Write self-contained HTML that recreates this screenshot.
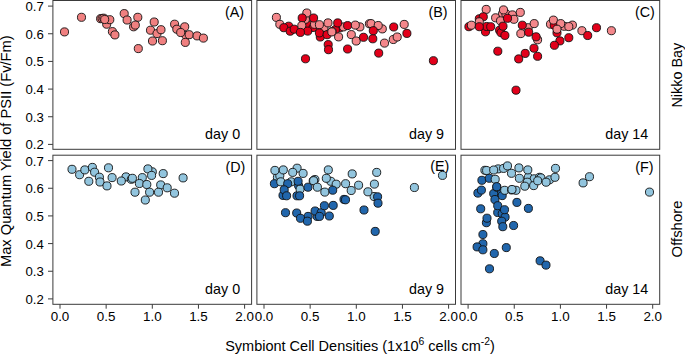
<!DOCTYPE html>
<html><head><meta charset="utf-8"><style>
html,body{margin:0;padding:0;background:#fff;width:685px;height:354px;overflow:hidden}
svg{display:block}
svg text{font-family:"Liberation Sans",sans-serif}
</style></head><body>
<svg width="685" height="354" viewBox="0 0 685 354">
<rect width="685" height="354" fill="#fff"/>
<text x="244.10" y="17.10" text-anchor="end" font-size="14.3" fill="#000" font-family="Liberation Sans, sans-serif">(A)</text>
<text x="240.10" y="138.60" text-anchor="end" font-size="14.3" fill="#000" font-family="Liberation Sans, sans-serif">day 0</text>
<text x="447.60" y="17.10" text-anchor="end" font-size="14.3" fill="#000" font-family="Liberation Sans, sans-serif">(B)</text>
<text x="444.00" y="138.60" text-anchor="end" font-size="14.3" fill="#000" font-family="Liberation Sans, sans-serif">day 9</text>
<text x="654.74" y="17.10" text-anchor="end" font-size="14.3" fill="#000" font-family="Liberation Sans, sans-serif">(C)</text>
<text x="648.20" y="138.60" text-anchor="end" font-size="14.3" fill="#000" font-family="Liberation Sans, sans-serif">day 14</text>
<text x="245.37" y="171.80" text-anchor="end" font-size="14.3" fill="#000" font-family="Liberation Sans, sans-serif">(D)</text>
<text x="240.10" y="293.60" text-anchor="end" font-size="14.3" fill="#000" font-family="Liberation Sans, sans-serif">day 0</text>
<text x="449.27" y="170.80" text-anchor="end" font-size="14.3" fill="#000" font-family="Liberation Sans, sans-serif">(E)</text>
<text x="444.00" y="293.60" text-anchor="end" font-size="14.3" fill="#000" font-family="Liberation Sans, sans-serif">day 9</text>
<text x="653.47" y="171.80" text-anchor="end" font-size="14.3" fill="#000" font-family="Liberation Sans, sans-serif">(F)</text>
<text x="648.20" y="293.60" text-anchor="end" font-size="14.3" fill="#000" font-family="Liberation Sans, sans-serif">day 14</text>
<rect x="52.9" y="0.5" width="198.70" height="148.80" fill="none" stroke="#3a3a3a" stroke-width="1"/>
<circle cx="64.5" cy="31.9" r="4.05" fill="#F08080" stroke="#111" stroke-width="0.9"/>
<circle cx="81.5" cy="17.3" r="4.05" fill="#F08080" stroke="#111" stroke-width="0.9"/>
<circle cx="106.7" cy="24.2" r="4.05" fill="#F08080" stroke="#111" stroke-width="0.9"/>
<circle cx="109.8" cy="19.7" r="4.05" fill="#F08080" stroke="#111" stroke-width="0.9"/>
<circle cx="100.6" cy="18.7" r="4.05" fill="#F08080" stroke="#111" stroke-width="0.9"/>
<circle cx="102.1" cy="18.4" r="4.05" fill="#F08080" stroke="#111" stroke-width="0.9"/>
<circle cx="103.8" cy="18.2" r="4.05" fill="#F08080" stroke="#111" stroke-width="0.9"/>
<circle cx="104.7" cy="19.5" r="4.05" fill="#F08080" stroke="#111" stroke-width="0.9"/>
<circle cx="112.4" cy="31.6" r="4.05" fill="#F08080" stroke="#111" stroke-width="0.9"/>
<circle cx="114.9" cy="34.9" r="4.05" fill="#F08080" stroke="#111" stroke-width="0.9"/>
<circle cx="124.2" cy="13.6" r="4.05" fill="#F08080" stroke="#111" stroke-width="0.9"/>
<circle cx="127.1" cy="20.0" r="4.05" fill="#F08080" stroke="#111" stroke-width="0.9"/>
<circle cx="137.8" cy="17.3" r="4.05" fill="#F08080" stroke="#111" stroke-width="0.9"/>
<circle cx="133.6" cy="26.8" r="4.05" fill="#F08080" stroke="#111" stroke-width="0.9"/>
<circle cx="135.3" cy="25.1" r="4.05" fill="#F08080" stroke="#111" stroke-width="0.9"/>
<circle cx="138.3" cy="48.6" r="4.05" fill="#F08080" stroke="#111" stroke-width="0.9"/>
<circle cx="154.2" cy="22.0" r="4.05" fill="#F08080" stroke="#111" stroke-width="0.9"/>
<circle cx="150.5" cy="30.2" r="4.05" fill="#F08080" stroke="#111" stroke-width="0.9"/>
<circle cx="157.0" cy="33.6" r="4.05" fill="#F08080" stroke="#111" stroke-width="0.9"/>
<circle cx="161.0" cy="29.7" r="4.05" fill="#F08080" stroke="#111" stroke-width="0.9"/>
<circle cx="152.5" cy="41.0" r="4.05" fill="#F08080" stroke="#111" stroke-width="0.9"/>
<circle cx="162.4" cy="40.7" r="4.05" fill="#F08080" stroke="#111" stroke-width="0.9"/>
<circle cx="174.6" cy="24.2" r="4.05" fill="#F08080" stroke="#111" stroke-width="0.9"/>
<circle cx="176.8" cy="29.2" r="4.05" fill="#F08080" stroke="#111" stroke-width="0.9"/>
<circle cx="184.7" cy="26.8" r="4.05" fill="#F08080" stroke="#111" stroke-width="0.9"/>
<circle cx="186.1" cy="35.6" r="4.05" fill="#F08080" stroke="#111" stroke-width="0.9"/>
<circle cx="180.7" cy="32.5" r="4.05" fill="#F08080" stroke="#111" stroke-width="0.9"/>
<circle cx="189.2" cy="34.7" r="4.05" fill="#F08080" stroke="#111" stroke-width="0.9"/>
<circle cx="185.3" cy="42.4" r="4.05" fill="#F08080" stroke="#111" stroke-width="0.9"/>
<circle cx="197.1" cy="35.9" r="4.05" fill="#F08080" stroke="#111" stroke-width="0.9"/>
<circle cx="203.4" cy="38.1" r="4.05" fill="#F08080" stroke="#111" stroke-width="0.9"/>
<rect x="256.9" y="0.5" width="198.60" height="148.80" fill="none" stroke="#3a3a3a" stroke-width="1"/>
<circle cx="288.7" cy="26.2" r="4.05" fill="#E2001A" stroke="#111" stroke-width="0.9"/>
<circle cx="309" cy="25.2" r="4.05" fill="#E2001A" stroke="#111" stroke-width="0.9"/>
<circle cx="305.4" cy="19.3" r="4.05" fill="#F4878B" stroke="#111" stroke-width="0.9"/>
<circle cx="313.1" cy="27.5" r="4.05" fill="#E2001A" stroke="#111" stroke-width="0.9"/>
<circle cx="314.5" cy="24.3" r="4.05" fill="#F4878B" stroke="#111" stroke-width="0.9"/>
<circle cx="320.3" cy="37" r="4.05" fill="#E2001A" stroke="#111" stroke-width="0.9"/>
<circle cx="324" cy="27.5" r="4.05" fill="#F4878B" stroke="#111" stroke-width="0.9"/>
<circle cx="340" cy="27.8" r="4.05" fill="#E2001A" stroke="#111" stroke-width="0.9"/>
<circle cx="335.4" cy="29.6" r="4.05" fill="#E2001A" stroke="#111" stroke-width="0.9"/>
<circle cx="343.6" cy="26.9" r="4.05" fill="#F4878B" stroke="#111" stroke-width="0.9"/>
<circle cx="359.9" cy="26.9" r="4.05" fill="#F4878B" stroke="#111" stroke-width="0.9"/>
<circle cx="393.3" cy="39.5" r="4.05" fill="#F4878B" stroke="#111" stroke-width="0.9"/>
<circle cx="276.4" cy="17.4" r="4.05" fill="#F4878B" stroke="#111" stroke-width="0.9"/>
<circle cx="279.8" cy="24.3" r="4.05" fill="#F4878B" stroke="#111" stroke-width="0.9"/>
<circle cx="283.8" cy="27.7" r="4.05" fill="#E2001A" stroke="#111" stroke-width="0.9"/>
<circle cx="290.2" cy="31.2" r="4.05" fill="#E2001A" stroke="#111" stroke-width="0.9"/>
<circle cx="294.2" cy="29.2" r="4.05" fill="#E2001A" stroke="#111" stroke-width="0.9"/>
<circle cx="306.8" cy="13" r="4.05" fill="#F4878B" stroke="#111" stroke-width="0.9"/>
<circle cx="302.2" cy="18" r="4.05" fill="#E2001A" stroke="#111" stroke-width="0.9"/>
<circle cx="313.6" cy="18" r="4.05" fill="#E2001A" stroke="#111" stroke-width="0.9"/>
<circle cx="301.8" cy="25.6" r="4.05" fill="#F4878B" stroke="#111" stroke-width="0.9"/>
<circle cx="307.7" cy="31.1" r="4.05" fill="#E2001A" stroke="#111" stroke-width="0.9"/>
<circle cx="300.4" cy="32.4" r="4.05" fill="#E2001A" stroke="#111" stroke-width="0.9"/>
<circle cx="319.4" cy="24.7" r="4.05" fill="#F4878B" stroke="#111" stroke-width="0.9"/>
<circle cx="328" cy="22.9" r="4.05" fill="#F4878B" stroke="#111" stroke-width="0.9"/>
<circle cx="319.4" cy="32.9" r="4.05" fill="#E2001A" stroke="#111" stroke-width="0.9"/>
<circle cx="332.1" cy="31.5" r="4.05" fill="#F4878B" stroke="#111" stroke-width="0.9"/>
<circle cx="327.1" cy="34.7" r="4.05" fill="#E2001A" stroke="#111" stroke-width="0.9"/>
<circle cx="337.7" cy="22.9" r="4.05" fill="#E2001A" stroke="#111" stroke-width="0.9"/>
<circle cx="331.8" cy="31.9" r="4.05" fill="#F4878B" stroke="#111" stroke-width="0.9"/>
<circle cx="338.6" cy="36.9" r="4.05" fill="#F4878B" stroke="#111" stroke-width="0.9"/>
<circle cx="347.6" cy="25.6" r="4.05" fill="#E2001A" stroke="#111" stroke-width="0.9"/>
<circle cx="355.3" cy="25.1" r="4.05" fill="#F4878B" stroke="#111" stroke-width="0.9"/>
<circle cx="351.3" cy="34.6" r="4.05" fill="#F4878B" stroke="#111" stroke-width="0.9"/>
<circle cx="356.2" cy="41" r="4.05" fill="#F4878B" stroke="#111" stroke-width="0.9"/>
<circle cx="363.5" cy="37.3" r="4.05" fill="#E2001A" stroke="#111" stroke-width="0.9"/>
<circle cx="369.4" cy="23.8" r="4.05" fill="#F4878B" stroke="#111" stroke-width="0.9"/>
<circle cx="328.2" cy="44.6" r="4.05" fill="#E2001A" stroke="#111" stroke-width="0.9"/>
<circle cx="328.5" cy="49.7" r="4.05" fill="#E2001A" stroke="#111" stroke-width="0.9"/>
<circle cx="347.6" cy="49.0" r="4.05" fill="#E2001A" stroke="#111" stroke-width="0.9"/>
<circle cx="305.5" cy="58.8" r="4.05" fill="#E2001A" stroke="#111" stroke-width="0.9"/>
<circle cx="371.0" cy="23.6" r="4.05" fill="#F4878B" stroke="#111" stroke-width="0.9"/>
<circle cx="382.3" cy="28.9" r="4.05" fill="#F4878B" stroke="#111" stroke-width="0.9"/>
<circle cx="378.2" cy="25.5" r="4.05" fill="#F4878B" stroke="#111" stroke-width="0.9"/>
<circle cx="373.3" cy="30.7" r="4.05" fill="#E2001A" stroke="#111" stroke-width="0.9"/>
<circle cx="372.8" cy="38.8" r="4.05" fill="#E2001A" stroke="#111" stroke-width="0.9"/>
<circle cx="384.5" cy="43.1" r="4.05" fill="#F4878B" stroke="#111" stroke-width="0.9"/>
<circle cx="393.7" cy="27" r="4.05" fill="#E2001A" stroke="#111" stroke-width="0.9"/>
<circle cx="404.2" cy="24.4" r="4.05" fill="#F4878B" stroke="#111" stroke-width="0.9"/>
<circle cx="406.9" cy="33.4" r="4.05" fill="#E2001A" stroke="#111" stroke-width="0.9"/>
<circle cx="397.2" cy="37" r="4.05" fill="#F4878B" stroke="#111" stroke-width="0.9"/>
<circle cx="378.7" cy="53.1" r="4.05" fill="#E2001A" stroke="#111" stroke-width="0.9"/>
<circle cx="433.4" cy="60.7" r="4.05" fill="#E2001A" stroke="#111" stroke-width="0.9"/>
<rect x="461.0" y="0.5" width="198.70" height="148.80" fill="none" stroke="#3a3a3a" stroke-width="1"/>
<circle cx="479.3" cy="18.8" r="4.05" fill="#E2001A" stroke="#111" stroke-width="0.9"/>
<circle cx="468.9" cy="26.7" r="4.05" fill="#E2001A" stroke="#111" stroke-width="0.9"/>
<circle cx="485.5" cy="31.8" r="4.05" fill="#E2001A" stroke="#111" stroke-width="0.9"/>
<circle cx="486.7" cy="26.5" r="4.05" fill="#E2001A" stroke="#111" stroke-width="0.9"/>
<circle cx="502.5" cy="13.9" r="4.05" fill="#F4878B" stroke="#111" stroke-width="0.9"/>
<circle cx="505.8" cy="13.6" r="4.05" fill="#F4878B" stroke="#111" stroke-width="0.9"/>
<circle cx="512.4" cy="14.9" r="4.05" fill="#F4878B" stroke="#111" stroke-width="0.9"/>
<circle cx="513.9" cy="19.3" r="4.05" fill="#F4878B" stroke="#111" stroke-width="0.9"/>
<circle cx="499.6" cy="30.2" r="4.05" fill="#E2001A" stroke="#111" stroke-width="0.9"/>
<circle cx="501.0" cy="32.6" r="4.05" fill="#E2001A" stroke="#111" stroke-width="0.9"/>
<circle cx="528.2" cy="27.7" r="4.05" fill="#F4878B" stroke="#111" stroke-width="0.9"/>
<circle cx="537.6" cy="39.8" r="4.05" fill="#F4878B" stroke="#111" stroke-width="0.9"/>
<circle cx="550.5" cy="24.2" r="4.05" fill="#F4878B" stroke="#111" stroke-width="0.9"/>
<circle cx="554.3" cy="25.2" r="4.05" fill="#E2001A" stroke="#111" stroke-width="0.9"/>
<circle cx="557" cy="32.8" r="4.05" fill="#E2001A" stroke="#111" stroke-width="0.9"/>
<circle cx="564.3" cy="26.3" r="4.05" fill="#F4878B" stroke="#111" stroke-width="0.9"/>
<circle cx="486.2" cy="9.4" r="4.05" fill="#F4878B" stroke="#111" stroke-width="0.9"/>
<circle cx="483.3" cy="16.8" r="4.05" fill="#E2001A" stroke="#111" stroke-width="0.9"/>
<circle cx="479.3" cy="21.8" r="4.05" fill="#F4878B" stroke="#111" stroke-width="0.9"/>
<circle cx="471.4" cy="25.2" r="4.05" fill="#F4878B" stroke="#111" stroke-width="0.9"/>
<circle cx="479.3" cy="26.7" r="4.05" fill="#E2001A" stroke="#111" stroke-width="0.9"/>
<circle cx="490.7" cy="26.7" r="4.05" fill="#E2001A" stroke="#111" stroke-width="0.9"/>
<circle cx="495.6" cy="17.8" r="4.05" fill="#F4878B" stroke="#111" stroke-width="0.9"/>
<circle cx="503.5" cy="9.9" r="4.05" fill="#F4878B" stroke="#111" stroke-width="0.9"/>
<circle cx="500.5" cy="20.8" r="4.05" fill="#F4878B" stroke="#111" stroke-width="0.9"/>
<circle cx="507.5" cy="18.3" r="4.05" fill="#E2001A" stroke="#111" stroke-width="0.9"/>
<circle cx="520.3" cy="12.4" r="4.05" fill="#F4878B" stroke="#111" stroke-width="0.9"/>
<circle cx="503.0" cy="26.2" r="4.05" fill="#E2001A" stroke="#111" stroke-width="0.9"/>
<circle cx="504.9" cy="35.4" r="4.05" fill="#E2001A" stroke="#111" stroke-width="0.9"/>
<circle cx="522.3" cy="25.2" r="4.05" fill="#E2001A" stroke="#111" stroke-width="0.9"/>
<circle cx="534.2" cy="23.6" r="4.05" fill="#F4878B" stroke="#111" stroke-width="0.9"/>
<circle cx="520.8" cy="33.6" r="4.05" fill="#F4878B" stroke="#111" stroke-width="0.9"/>
<circle cx="528.7" cy="32.2" r="4.05" fill="#E2001A" stroke="#111" stroke-width="0.9"/>
<circle cx="536.1" cy="36.8" r="4.05" fill="#E2001A" stroke="#111" stroke-width="0.9"/>
<circle cx="497.8" cy="51.2" r="4.05" fill="#E2001A" stroke="#111" stroke-width="0.9"/>
<circle cx="534.0" cy="48.2" r="4.05" fill="#E2001A" stroke="#111" stroke-width="0.9"/>
<circle cx="525.2" cy="53.4" r="4.05" fill="#E2001A" stroke="#111" stroke-width="0.9"/>
<circle cx="518.7" cy="58.9" r="4.05" fill="#E2001A" stroke="#111" stroke-width="0.9"/>
<circle cx="537.6" cy="56.3" r="4.05" fill="#E2001A" stroke="#111" stroke-width="0.9"/>
<circle cx="516.0" cy="90.2" r="4.05" fill="#E2001A" stroke="#111" stroke-width="0.9"/>
<circle cx="553.4" cy="20.1" r="4.05" fill="#F4878B" stroke="#111" stroke-width="0.9"/>
<circle cx="560.7" cy="23.6" r="4.05" fill="#F4878B" stroke="#111" stroke-width="0.9"/>
<circle cx="557" cy="29.2" r="4.05" fill="#F4878B" stroke="#111" stroke-width="0.9"/>
<circle cx="572.4" cy="25.1" r="4.05" fill="#F4878B" stroke="#111" stroke-width="0.9"/>
<circle cx="568.8" cy="26.6" r="4.05" fill="#F4878B" stroke="#111" stroke-width="0.9"/>
<circle cx="568.8" cy="37.7" r="4.05" fill="#E2001A" stroke="#111" stroke-width="0.9"/>
<circle cx="559.9" cy="40.9" r="4.05" fill="#E2001A" stroke="#111" stroke-width="0.9"/>
<circle cx="554.4" cy="45.3" r="4.05" fill="#E2001A" stroke="#111" stroke-width="0.9"/>
<circle cx="581.9" cy="30.7" r="4.05" fill="#F4878B" stroke="#111" stroke-width="0.9"/>
<circle cx="587.7" cy="35.5" r="4.05" fill="#E2001A" stroke="#111" stroke-width="0.9"/>
<circle cx="596.5" cy="27.7" r="4.05" fill="#E2001A" stroke="#111" stroke-width="0.9"/>
<circle cx="611.4" cy="30.7" r="4.05" fill="#F4878B" stroke="#111" stroke-width="0.9"/>
<rect x="52.9" y="155.2" width="198.70" height="149.10" fill="none" stroke="#3a3a3a" stroke-width="1"/>
<circle cx="126.0" cy="176.9" r="4.05" fill="#92C5DE" stroke="#111" stroke-width="0.9"/>
<circle cx="152.3" cy="171.8" r="4.05" fill="#92C5DE" stroke="#111" stroke-width="0.9"/>
<circle cx="72.0" cy="169.3" r="4.05" fill="#92C5DE" stroke="#111" stroke-width="0.9"/>
<circle cx="79.6" cy="174.7" r="4.05" fill="#92C5DE" stroke="#111" stroke-width="0.9"/>
<circle cx="84.8" cy="169.9" r="4.05" fill="#92C5DE" stroke="#111" stroke-width="0.9"/>
<circle cx="92.4" cy="167.4" r="4.05" fill="#92C5DE" stroke="#111" stroke-width="0.9"/>
<circle cx="94.6" cy="172.2" r="4.05" fill="#92C5DE" stroke="#111" stroke-width="0.9"/>
<circle cx="88.8" cy="181.3" r="4.05" fill="#92C5DE" stroke="#111" stroke-width="0.9"/>
<circle cx="99.4" cy="177.2" r="4.05" fill="#92C5DE" stroke="#111" stroke-width="0.9"/>
<circle cx="100.0" cy="182.0" r="4.05" fill="#92C5DE" stroke="#111" stroke-width="0.9"/>
<circle cx="107.0" cy="185.9" r="4.05" fill="#92C5DE" stroke="#111" stroke-width="0.9"/>
<circle cx="108.5" cy="167.8" r="4.05" fill="#92C5DE" stroke="#111" stroke-width="0.9"/>
<circle cx="112.1" cy="177.6" r="4.05" fill="#92C5DE" stroke="#111" stroke-width="0.9"/>
<circle cx="121.3" cy="181.0" r="4.05" fill="#92C5DE" stroke="#111" stroke-width="0.9"/>
<circle cx="131.3" cy="179.3" r="4.05" fill="#92C5DE" stroke="#111" stroke-width="0.9"/>
<circle cx="132.4" cy="178.3" r="4.05" fill="#92C5DE" stroke="#111" stroke-width="0.9"/>
<circle cx="142.3" cy="177.6" r="4.05" fill="#92C5DE" stroke="#111" stroke-width="0.9"/>
<circle cx="139.4" cy="183.5" r="4.05" fill="#92C5DE" stroke="#111" stroke-width="0.9"/>
<circle cx="146.8" cy="184.5" r="4.05" fill="#92C5DE" stroke="#111" stroke-width="0.9"/>
<circle cx="135.0" cy="192.2" r="4.05" fill="#92C5DE" stroke="#111" stroke-width="0.9"/>
<circle cx="145.3" cy="200.0" r="4.05" fill="#92C5DE" stroke="#111" stroke-width="0.9"/>
<circle cx="147.9" cy="168.9" r="4.05" fill="#92C5DE" stroke="#111" stroke-width="0.9"/>
<circle cx="151.6" cy="175.4" r="4.05" fill="#92C5DE" stroke="#111" stroke-width="0.9"/>
<circle cx="149.6" cy="192.2" r="4.05" fill="#92C5DE" stroke="#111" stroke-width="0.9"/>
<circle cx="163.2" cy="173.6" r="4.05" fill="#92C5DE" stroke="#111" stroke-width="0.9"/>
<circle cx="160.7" cy="184.9" r="4.05" fill="#92C5DE" stroke="#111" stroke-width="0.9"/>
<circle cx="158.5" cy="192.2" r="4.05" fill="#92C5DE" stroke="#111" stroke-width="0.9"/>
<circle cx="167.2" cy="187.8" r="4.05" fill="#92C5DE" stroke="#111" stroke-width="0.9"/>
<circle cx="174.5" cy="193.2" r="4.05" fill="#92C5DE" stroke="#111" stroke-width="0.9"/>
<circle cx="183.1" cy="177.9" r="4.05" fill="#92C5DE" stroke="#111" stroke-width="0.9"/>
<rect x="256.9" y="155.2" width="198.60" height="149.10" fill="none" stroke="#3a3a3a" stroke-width="1"/>
<circle cx="277.4" cy="177.3" r="4.05" fill="#92C5DE" stroke="#111" stroke-width="0.9"/>
<circle cx="291.2" cy="181.8" r="4.05" fill="#92C5DE" stroke="#111" stroke-width="0.9"/>
<circle cx="298.6" cy="185.7" r="4.05" fill="#2166AC" stroke="#111" stroke-width="0.9"/>
<circle cx="283.0" cy="195.4" r="4.05" fill="#2166AC" stroke="#111" stroke-width="0.9"/>
<circle cx="297.0" cy="195.8" r="4.05" fill="#2166AC" stroke="#111" stroke-width="0.9"/>
<circle cx="314.9" cy="179.5" r="4.05" fill="#92C5DE" stroke="#111" stroke-width="0.9"/>
<circle cx="330.8" cy="181.3" r="4.05" fill="#92C5DE" stroke="#111" stroke-width="0.9"/>
<circle cx="374.1" cy="196.5" r="4.05" fill="#92C5DE" stroke="#111" stroke-width="0.9"/>
<circle cx="308.1" cy="216.4" r="4.05" fill="#2166AC" stroke="#111" stroke-width="0.9"/>
<circle cx="317.1" cy="216.4" r="4.05" fill="#2166AC" stroke="#111" stroke-width="0.9"/>
<circle cx="344.0" cy="199.4" r="4.05" fill="#2166AC" stroke="#111" stroke-width="0.9"/>
<circle cx="279.8" cy="175.6" r="4.05" fill="#92C5DE" stroke="#111" stroke-width="0.9"/>
<circle cx="274.9" cy="170.4" r="4.05" fill="#92C5DE" stroke="#111" stroke-width="0.9"/>
<circle cx="283.3" cy="169.9" r="4.05" fill="#92C5DE" stroke="#111" stroke-width="0.9"/>
<circle cx="297.1" cy="168.2" r="4.05" fill="#92C5DE" stroke="#111" stroke-width="0.9"/>
<circle cx="292.7" cy="172.4" r="4.05" fill="#92C5DE" stroke="#111" stroke-width="0.9"/>
<circle cx="303.1" cy="173.4" r="4.05" fill="#92C5DE" stroke="#111" stroke-width="0.9"/>
<circle cx="274.4" cy="183.7" r="4.05" fill="#2166AC" stroke="#111" stroke-width="0.9"/>
<circle cx="280.8" cy="181.8" r="4.05" fill="#92C5DE" stroke="#111" stroke-width="0.9"/>
<circle cx="287.7" cy="183.7" r="4.05" fill="#2166AC" stroke="#111" stroke-width="0.9"/>
<circle cx="298.1" cy="181.3" r="4.05" fill="#2166AC" stroke="#111" stroke-width="0.9"/>
<circle cx="300.1" cy="189.2" r="4.05" fill="#92C5DE" stroke="#111" stroke-width="0.9"/>
<circle cx="284.2" cy="189.8" r="4.05" fill="#2166AC" stroke="#111" stroke-width="0.9"/>
<circle cx="286.6" cy="195.8" r="4.05" fill="#2166AC" stroke="#111" stroke-width="0.9"/>
<circle cx="299.6" cy="195.8" r="4.05" fill="#2166AC" stroke="#111" stroke-width="0.9"/>
<circle cx="308" cy="187.2" r="4.05" fill="#2166AC" stroke="#111" stroke-width="0.9"/>
<circle cx="313.2" cy="180.9" r="4.05" fill="#92C5DE" stroke="#111" stroke-width="0.9"/>
<circle cx="313.6" cy="180.7" r="4.05" fill="#92C5DE" stroke="#111" stroke-width="0.9"/>
<circle cx="317.4" cy="187.2" r="4.05" fill="#92C5DE" stroke="#111" stroke-width="0.9"/>
<circle cx="328.3" cy="169.9" r="4.05" fill="#92C5DE" stroke="#111" stroke-width="0.9"/>
<circle cx="326.3" cy="178.3" r="4.05" fill="#92C5DE" stroke="#111" stroke-width="0.9"/>
<circle cx="336.2" cy="184.2" r="4.05" fill="#92C5DE" stroke="#111" stroke-width="0.9"/>
<circle cx="332.7" cy="190.2" r="4.05" fill="#2166AC" stroke="#111" stroke-width="0.9"/>
<circle cx="324.8" cy="192.1" r="4.05" fill="#92C5DE" stroke="#111" stroke-width="0.9"/>
<circle cx="345.6" cy="183.7" r="4.05" fill="#92C5DE" stroke="#111" stroke-width="0.9"/>
<circle cx="352.2" cy="173.9" r="4.05" fill="#92C5DE" stroke="#111" stroke-width="0.9"/>
<circle cx="351.2" cy="190.5" r="4.05" fill="#92C5DE" stroke="#111" stroke-width="0.9"/>
<circle cx="358.6" cy="185.2" r="4.05" fill="#92C5DE" stroke="#111" stroke-width="0.9"/>
<circle cx="345.5" cy="199.8" r="4.05" fill="#2166AC" stroke="#111" stroke-width="0.9"/>
<circle cx="285.5" cy="212.7" r="4.05" fill="#2166AC" stroke="#111" stroke-width="0.9"/>
<circle cx="296.7" cy="213.0" r="4.05" fill="#2166AC" stroke="#111" stroke-width="0.9"/>
<circle cx="300.5" cy="218.3" r="4.05" fill="#2166AC" stroke="#111" stroke-width="0.9"/>
<circle cx="307.4" cy="221.2" r="4.05" fill="#2166AC" stroke="#111" stroke-width="0.9"/>
<circle cx="315.1" cy="211.0" r="4.05" fill="#2166AC" stroke="#111" stroke-width="0.9"/>
<circle cx="321.2" cy="212.7" r="4.05" fill="#2166AC" stroke="#111" stroke-width="0.9"/>
<circle cx="319.5" cy="216.4" r="4.05" fill="#2166AC" stroke="#111" stroke-width="0.9"/>
<circle cx="324.4" cy="205.7" r="4.05" fill="#2166AC" stroke="#111" stroke-width="0.9"/>
<circle cx="333.2" cy="205.4" r="4.05" fill="#2166AC" stroke="#111" stroke-width="0.9"/>
<circle cx="329.3" cy="216" r="4.05" fill="#2166AC" stroke="#111" stroke-width="0.9"/>
<circle cx="376.7" cy="172.4" r="4.05" fill="#92C5DE" stroke="#111" stroke-width="0.9"/>
<circle cx="374.4" cy="184.1" r="4.05" fill="#92C5DE" stroke="#111" stroke-width="0.9"/>
<circle cx="367.9" cy="191.8" r="4.05" fill="#92C5DE" stroke="#111" stroke-width="0.9"/>
<circle cx="377.6" cy="196.8" r="4.05" fill="#2166AC" stroke="#111" stroke-width="0.9"/>
<circle cx="378.0" cy="203.2" r="4.05" fill="#2166AC" stroke="#111" stroke-width="0.9"/>
<circle cx="364.0" cy="210.0" r="4.05" fill="#2166AC" stroke="#111" stroke-width="0.9"/>
<circle cx="375.2" cy="231.4" r="4.05" fill="#2166AC" stroke="#111" stroke-width="0.9"/>
<circle cx="414.4" cy="187.5" r="4.05" fill="#92C5DE" stroke="#111" stroke-width="0.9"/>
<circle cx="442.5" cy="175.4" r="4.05" fill="#92C5DE" stroke="#111" stroke-width="0.9"/>
<rect x="461.0" y="155.2" width="198.70" height="149.10" fill="none" stroke="#3a3a3a" stroke-width="1"/>
<circle cx="484.9" cy="170.3" r="4.05" fill="#92C5DE" stroke="#111" stroke-width="0.9"/>
<circle cx="498.2" cy="168.9" r="4.05" fill="#92C5DE" stroke="#111" stroke-width="0.9"/>
<circle cx="503.6" cy="168.4" r="4.05" fill="#92C5DE" stroke="#111" stroke-width="0.9"/>
<circle cx="477.9" cy="193.1" r="4.05" fill="#2166AC" stroke="#111" stroke-width="0.9"/>
<circle cx="499.6" cy="192.6" r="4.05" fill="#2166AC" stroke="#111" stroke-width="0.9"/>
<circle cx="516" cy="190.3" r="4.05" fill="#92C5DE" stroke="#111" stroke-width="0.9"/>
<circle cx="528.3" cy="177.3" r="4.05" fill="#92C5DE" stroke="#111" stroke-width="0.9"/>
<circle cx="534.2" cy="178.8" r="4.05" fill="#92C5DE" stroke="#111" stroke-width="0.9"/>
<circle cx="539.6" cy="177.3" r="4.05" fill="#92C5DE" stroke="#111" stroke-width="0.9"/>
<circle cx="527.3" cy="182.2" r="4.05" fill="#92C5DE" stroke="#111" stroke-width="0.9"/>
<circle cx="549.5" cy="179.8" r="4.05" fill="#92C5DE" stroke="#111" stroke-width="0.9"/>
<circle cx="540.9" cy="177.9" r="4.05" fill="#92C5DE" stroke="#111" stroke-width="0.9"/>
<circle cx="486.4" cy="222.7" r="4.05" fill="#2166AC" stroke="#111" stroke-width="0.9"/>
<circle cx="497.7" cy="212.5" r="4.05" fill="#2166AC" stroke="#111" stroke-width="0.9"/>
<circle cx="502.2" cy="213.7" r="4.05" fill="#2166AC" stroke="#111" stroke-width="0.9"/>
<circle cx="505.1" cy="217.1" r="4.05" fill="#2166AC" stroke="#111" stroke-width="0.9"/>
<circle cx="482.9" cy="243.7" r="4.05" fill="#2166AC" stroke="#111" stroke-width="0.9"/>
<circle cx="486.6" cy="170.5" r="4.05" fill="#92C5DE" stroke="#111" stroke-width="0.9"/>
<circle cx="493.7" cy="170.0" r="4.05" fill="#92C5DE" stroke="#111" stroke-width="0.9"/>
<circle cx="507.5" cy="165.9" r="4.05" fill="#92C5DE" stroke="#111" stroke-width="0.9"/>
<circle cx="511.5" cy="173.3" r="4.05" fill="#92C5DE" stroke="#111" stroke-width="0.9"/>
<circle cx="518.9" cy="167.9" r="4.05" fill="#92C5DE" stroke="#111" stroke-width="0.9"/>
<circle cx="527.8" cy="169.9" r="4.05" fill="#92C5DE" stroke="#111" stroke-width="0.9"/>
<circle cx="519.4" cy="178.3" r="4.05" fill="#92C5DE" stroke="#111" stroke-width="0.9"/>
<circle cx="533.7" cy="185.6" r="4.05" fill="#92C5DE" stroke="#111" stroke-width="0.9"/>
<circle cx="537.7" cy="180.8" r="4.05" fill="#92C5DE" stroke="#111" stroke-width="0.9"/>
<circle cx="524.8" cy="186.2" r="4.05" fill="#92C5DE" stroke="#111" stroke-width="0.9"/>
<circle cx="546.1" cy="182.2" r="4.05" fill="#92C5DE" stroke="#111" stroke-width="0.9"/>
<circle cx="555.0" cy="177.3" r="4.05" fill="#92C5DE" stroke="#111" stroke-width="0.9"/>
<circle cx="555.5" cy="168.4" r="4.05" fill="#92C5DE" stroke="#111" stroke-width="0.9"/>
<circle cx="481.9" cy="180.3" r="4.05" fill="#2166AC" stroke="#111" stroke-width="0.9"/>
<circle cx="489.3" cy="178.3" r="4.05" fill="#2166AC" stroke="#111" stroke-width="0.9"/>
<circle cx="495.2" cy="179.3" r="4.05" fill="#92C5DE" stroke="#111" stroke-width="0.9"/>
<circle cx="481.4" cy="190.1" r="4.05" fill="#2166AC" stroke="#111" stroke-width="0.9"/>
<circle cx="493.7" cy="193.6" r="4.05" fill="#2166AC" stroke="#111" stroke-width="0.9"/>
<circle cx="496.8" cy="187.2" r="4.05" fill="#2166AC" stroke="#111" stroke-width="0.9"/>
<circle cx="502.2" cy="195.6" r="4.05" fill="#2166AC" stroke="#111" stroke-width="0.9"/>
<circle cx="494.9" cy="199.5" r="4.05" fill="#2166AC" stroke="#111" stroke-width="0.9"/>
<circle cx="496.7" cy="186.7" r="4.05" fill="#2166AC" stroke="#111" stroke-width="0.9"/>
<circle cx="504.7" cy="190.3" r="4.05" fill="#92C5DE" stroke="#111" stroke-width="0.9"/>
<circle cx="511.6" cy="190.0" r="4.05" fill="#92C5DE" stroke="#111" stroke-width="0.9"/>
<circle cx="512.0" cy="189.5" r="4.05" fill="#92C5DE" stroke="#111" stroke-width="0.9"/>
<circle cx="480.7" cy="208.8" r="4.05" fill="#2166AC" stroke="#111" stroke-width="0.9"/>
<circle cx="487.0" cy="218.2" r="4.05" fill="#2166AC" stroke="#111" stroke-width="0.9"/>
<circle cx="497.7" cy="205.7" r="4.05" fill="#2166AC" stroke="#111" stroke-width="0.9"/>
<circle cx="504.5" cy="209.7" r="4.05" fill="#2166AC" stroke="#111" stroke-width="0.9"/>
<circle cx="501.7" cy="221.2" r="4.05" fill="#2166AC" stroke="#111" stroke-width="0.9"/>
<circle cx="502.8" cy="226.7" r="4.05" fill="#2166AC" stroke="#111" stroke-width="0.9"/>
<circle cx="513.6" cy="225.5" r="4.05" fill="#2166AC" stroke="#111" stroke-width="0.9"/>
<circle cx="516.9" cy="202.4" r="4.05" fill="#2166AC" stroke="#111" stroke-width="0.9"/>
<circle cx="528.4" cy="208.4" r="4.05" fill="#2166AC" stroke="#111" stroke-width="0.9"/>
<circle cx="482.9" cy="234.5" r="4.05" fill="#2166AC" stroke="#111" stroke-width="0.9"/>
<circle cx="477.1" cy="246.9" r="4.05" fill="#2166AC" stroke="#111" stroke-width="0.9"/>
<circle cx="482.9" cy="249.8" r="4.05" fill="#2166AC" stroke="#111" stroke-width="0.9"/>
<circle cx="494.3" cy="253.5" r="4.05" fill="#2166AC" stroke="#111" stroke-width="0.9"/>
<circle cx="506.3" cy="247.6" r="4.05" fill="#2166AC" stroke="#111" stroke-width="0.9"/>
<circle cx="489.5" cy="268.8" r="4.05" fill="#2166AC" stroke="#111" stroke-width="0.9"/>
<circle cx="540.1" cy="260.8" r="4.05" fill="#2166AC" stroke="#111" stroke-width="0.9"/>
<circle cx="546.0" cy="265.1" r="4.05" fill="#2166AC" stroke="#111" stroke-width="0.9"/>
<circle cx="589.5" cy="176.7" r="4.05" fill="#92C5DE" stroke="#111" stroke-width="0.9"/>
<circle cx="583.1" cy="182.9" r="4.05" fill="#92C5DE" stroke="#111" stroke-width="0.9"/>
<circle cx="649.5" cy="192.1" r="4.05" fill="#92C5DE" stroke="#111" stroke-width="0.9"/>
<line x1="48.0" y1="144.40" x2="52.9" y2="144.40" stroke="#3a3a3a" stroke-width="1"/>
<text x="43.8" y="149.40" text-anchor="end" font-size="13.2" fill="#000" font-family="Liberation Sans, sans-serif">0.2</text>
<line x1="48.0" y1="116.74" x2="52.9" y2="116.74" stroke="#3a3a3a" stroke-width="1"/>
<text x="43.8" y="121.74" text-anchor="end" font-size="13.2" fill="#000" font-family="Liberation Sans, sans-serif">0.3</text>
<line x1="48.0" y1="89.08" x2="52.9" y2="89.08" stroke="#3a3a3a" stroke-width="1"/>
<text x="43.8" y="94.08" text-anchor="end" font-size="13.2" fill="#000" font-family="Liberation Sans, sans-serif">0.4</text>
<line x1="48.0" y1="61.42" x2="52.9" y2="61.42" stroke="#3a3a3a" stroke-width="1"/>
<text x="43.8" y="66.42" text-anchor="end" font-size="13.2" fill="#000" font-family="Liberation Sans, sans-serif">0.5</text>
<line x1="48.0" y1="33.76" x2="52.9" y2="33.76" stroke="#3a3a3a" stroke-width="1"/>
<text x="43.8" y="38.76" text-anchor="end" font-size="13.2" fill="#000" font-family="Liberation Sans, sans-serif">0.6</text>
<line x1="48.0" y1="6.10" x2="52.9" y2="6.10" stroke="#3a3a3a" stroke-width="1"/>
<text x="43.8" y="11.10" text-anchor="end" font-size="13.2" fill="#000" font-family="Liberation Sans, sans-serif">0.7</text>
<line x1="48.0" y1="298.90" x2="52.9" y2="298.90" stroke="#3a3a3a" stroke-width="1"/>
<text x="43.8" y="303.90" text-anchor="end" font-size="13.2" fill="#000" font-family="Liberation Sans, sans-serif">0.2</text>
<line x1="48.0" y1="271.24" x2="52.9" y2="271.24" stroke="#3a3a3a" stroke-width="1"/>
<text x="43.8" y="276.24" text-anchor="end" font-size="13.2" fill="#000" font-family="Liberation Sans, sans-serif">0.3</text>
<line x1="48.0" y1="243.58" x2="52.9" y2="243.58" stroke="#3a3a3a" stroke-width="1"/>
<text x="43.8" y="248.58" text-anchor="end" font-size="13.2" fill="#000" font-family="Liberation Sans, sans-serif">0.4</text>
<line x1="48.0" y1="215.92" x2="52.9" y2="215.92" stroke="#3a3a3a" stroke-width="1"/>
<text x="43.8" y="220.92" text-anchor="end" font-size="13.2" fill="#000" font-family="Liberation Sans, sans-serif">0.5</text>
<line x1="48.0" y1="188.26" x2="52.9" y2="188.26" stroke="#3a3a3a" stroke-width="1"/>
<text x="43.8" y="193.26" text-anchor="end" font-size="13.2" fill="#000" font-family="Liberation Sans, sans-serif">0.6</text>
<line x1="48.0" y1="160.60" x2="52.9" y2="160.60" stroke="#3a3a3a" stroke-width="1"/>
<text x="43.8" y="165.60" text-anchor="end" font-size="13.2" fill="#000" font-family="Liberation Sans, sans-serif">0.7</text>
<line x1="60.00" y1="304.3" x2="60.00" y2="308.70" stroke="#3a3a3a" stroke-width="1"/>
<text x="60.00" y="320.50" text-anchor="middle" font-size="13.4" fill="#000" font-family="Liberation Sans, sans-serif">0.0</text>
<line x1="106.15" y1="304.3" x2="106.15" y2="308.70" stroke="#3a3a3a" stroke-width="1"/>
<text x="106.15" y="320.50" text-anchor="middle" font-size="13.4" fill="#000" font-family="Liberation Sans, sans-serif">0.5</text>
<line x1="152.30" y1="304.3" x2="152.30" y2="308.70" stroke="#3a3a3a" stroke-width="1"/>
<text x="152.30" y="320.50" text-anchor="middle" font-size="13.4" fill="#000" font-family="Liberation Sans, sans-serif">1.0</text>
<line x1="198.45" y1="304.3" x2="198.45" y2="308.70" stroke="#3a3a3a" stroke-width="1"/>
<text x="198.45" y="320.50" text-anchor="middle" font-size="13.4" fill="#000" font-family="Liberation Sans, sans-serif">1.5</text>
<line x1="244.60" y1="304.3" x2="244.60" y2="308.70" stroke="#3a3a3a" stroke-width="1"/>
<text x="244.60" y="320.50" text-anchor="middle" font-size="13.4" fill="#000" font-family="Liberation Sans, sans-serif">2.0</text>
<line x1="264.00" y1="304.3" x2="264.00" y2="308.70" stroke="#3a3a3a" stroke-width="1"/>
<text x="264.00" y="320.50" text-anchor="middle" font-size="13.4" fill="#000" font-family="Liberation Sans, sans-serif">0.0</text>
<line x1="310.15" y1="304.3" x2="310.15" y2="308.70" stroke="#3a3a3a" stroke-width="1"/>
<text x="310.15" y="320.50" text-anchor="middle" font-size="13.4" fill="#000" font-family="Liberation Sans, sans-serif">0.5</text>
<line x1="356.30" y1="304.3" x2="356.30" y2="308.70" stroke="#3a3a3a" stroke-width="1"/>
<text x="356.30" y="320.50" text-anchor="middle" font-size="13.4" fill="#000" font-family="Liberation Sans, sans-serif">1.0</text>
<line x1="402.45" y1="304.3" x2="402.45" y2="308.70" stroke="#3a3a3a" stroke-width="1"/>
<text x="402.45" y="320.50" text-anchor="middle" font-size="13.4" fill="#000" font-family="Liberation Sans, sans-serif">1.5</text>
<line x1="448.60" y1="304.3" x2="448.60" y2="308.70" stroke="#3a3a3a" stroke-width="1"/>
<text x="448.60" y="320.50" text-anchor="middle" font-size="13.4" fill="#000" font-family="Liberation Sans, sans-serif">2.0</text>
<line x1="468.10" y1="304.3" x2="468.10" y2="308.70" stroke="#3a3a3a" stroke-width="1"/>
<text x="468.10" y="320.50" text-anchor="middle" font-size="13.4" fill="#000" font-family="Liberation Sans, sans-serif">0.0</text>
<line x1="514.25" y1="304.3" x2="514.25" y2="308.70" stroke="#3a3a3a" stroke-width="1"/>
<text x="514.25" y="320.50" text-anchor="middle" font-size="13.4" fill="#000" font-family="Liberation Sans, sans-serif">0.5</text>
<line x1="560.40" y1="304.3" x2="560.40" y2="308.70" stroke="#3a3a3a" stroke-width="1"/>
<text x="560.40" y="320.50" text-anchor="middle" font-size="13.4" fill="#000" font-family="Liberation Sans, sans-serif">1.0</text>
<line x1="606.55" y1="304.3" x2="606.55" y2="308.70" stroke="#3a3a3a" stroke-width="1"/>
<text x="606.55" y="320.50" text-anchor="middle" font-size="13.4" fill="#000" font-family="Liberation Sans, sans-serif">1.5</text>
<line x1="652.70" y1="304.3" x2="652.70" y2="308.70" stroke="#3a3a3a" stroke-width="1"/>
<text x="652.70" y="320.50" text-anchor="middle" font-size="13.4" fill="#000" font-family="Liberation Sans, sans-serif">2.0</text>
<text x="360" y="350.9" text-anchor="middle" font-size="14.5" fill="#000" font-family="Liberation Sans, sans-serif">Symbiont Cell Densities (1x10<tspan dy="-5.6" font-size="10.4">6</tspan><tspan dy="5.6"> cells cm</tspan><tspan dy="-5.6" font-size="10.4">-2</tspan><tspan dy="5.6">)</tspan></text>
<text transform="translate(11.0,151.2) rotate(-90)" text-anchor="middle" font-size="14.7" fill="#000" font-family="Liberation Sans, sans-serif">Max Quantum Yield of PSII (Fv/Fm)</text>
<text transform="translate(681.5,75.2) rotate(-90)" text-anchor="middle" font-size="14.4" fill="#000" font-family="Liberation Sans, sans-serif">Nikko Bay</text>
<text transform="translate(681.5,229.0) rotate(-90)" text-anchor="middle" font-size="14.9" fill="#000" font-family="Liberation Sans, sans-serif">Offshore</text>
</svg>
</body></html>
